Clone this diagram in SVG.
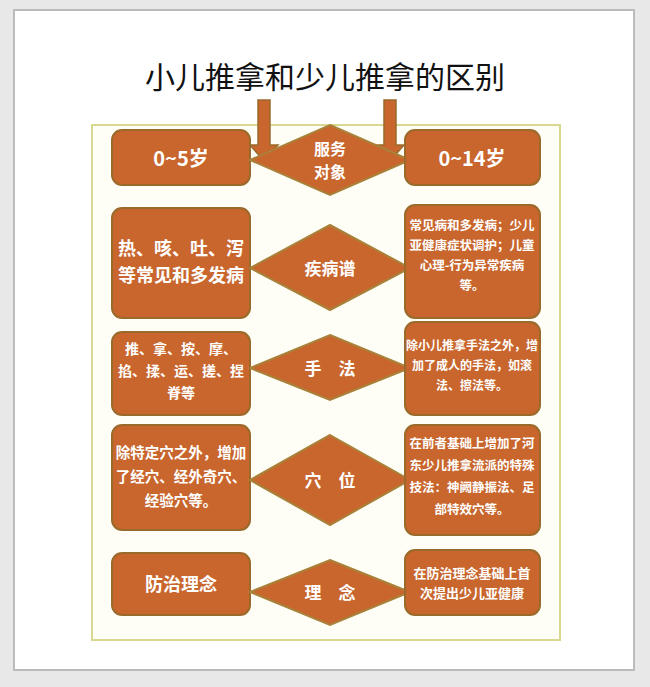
<svg xmlns="http://www.w3.org/2000/svg" width="650" height="687" viewBox="0 0 650 687">
<style>
.b{fill:#c8662e;stroke:#9a6a2a;stroke-width:2}
.d{fill:#c8662e;stroke:#a8823a;stroke-width:2}
.t{font-family:"Noto Sans CJK SC",sans-serif;fill:#fff;font-weight:bold;text-anchor:middle}
.ar{fill:#c8662e;stroke:#9a6a2a;stroke-width:1.5}
</style>
<rect width="650" height="687" fill="#e8e8e8"/>
<rect x="14" y="10" width="620" height="660" fill="#fff" stroke="#bbb" stroke-width="2"/>
<rect x="92" y="125" width="468" height="515" fill="#fffef6" stroke="#d8d890" stroke-width="2"/>
<text x="325" y="88" font-family="'Noto Sans CJK SC',sans-serif" font-size="30" text-anchor="middle" fill="#111">小儿推拿和少儿推拿的区别</text>
<g id="connectors">
<path class="ar" d="M258,100 h12 v45 h8 l-14,16 l-14,-16 h8 z"/>
<path class="ar" d="M384,100 h12 v45 h8 l-14,16 l-14,-16 h8 z"/>
</g>
<g id="r1">
<rect class="b" x="112" y="130" width="138" height="55" rx="10"/>
<text class="t" x="181" y="166" font-size="20">0~5岁</text>
<polygon class="d" points="330,125 410,160 330,195 250,160"/>
<text class="t" x="330" y="155" font-size="16">服务</text><text class="t" x="330" y="178" font-size="16">对象</text>
<rect class="b" x="405" y="130" width="135" height="55" rx="10"/>
<text class="t" x="472" y="166" font-size="20">0~14岁</text>
</g>
<g id="r2">
<rect class="b" x="112" y="208" width="138" height="110" rx="10"/>
<text class="t" x="181" y="255" font-size="18">热、咳、吐、泻</text><text class="t" x="181" y="282" font-size="18">等常见和多发病</text>
<polygon class="d" points="330,225 410,268 330,310 250,268"/>
<text class="t" x="330" y="275" font-size="17">疾病谱</text>
<rect class="b" x="405" y="205" width="135" height="113" rx="10"/>
<text class="t" x="472" y="230" font-size="12.5">常见病和多发病；少儿</text><text class="t" x="472" y="250" font-size="12.5">亚健康症状调护；儿童</text><text class="t" x="472" y="270" font-size="12.5">心理-行为异常疾病</text><text class="t" x="472" y="290" font-size="12.5">等。</text>
</g>
<g id="r3">
<rect class="b" x="112" y="332" width="138" height="83" rx="10"/>
<text class="t" x="181" y="354" font-size="14">推、拿、按、摩、</text><text class="t" x="181" y="376" font-size="14">掐、揉、运、搓、捏</text><text class="t" x="181" y="398" font-size="14">脊等</text>
<polygon class="d" points="330,335 410,368 330,400 250,368"/>
<text class="t" x="330" y="375" font-size="17">手　法</text>
<rect class="b" x="405" y="322" width="135" height="93" rx="10"/>
<text class="t" x="472" y="350" font-size="12">除小儿推拿手法之外，增</text><text class="t" x="472" y="370" font-size="12">加了成人的手法，如滚</text><text class="t" x="472" y="390" font-size="12">法、擦法等。</text>
</g>
<g id="r4">
<rect class="b" x="112" y="425" width="138" height="105" rx="10"/>
<text class="t" x="181" y="458" font-size="14.5">除特定穴之外，增加</text><text class="t" x="181" y="482" font-size="14.5">了经穴、经外奇穴、</text><text class="t" x="181" y="506" font-size="14.5">经验穴等。</text>
<polygon class="d" points="330,435 410,480 330,525 250,480"/>
<text class="t" x="330" y="487" font-size="17">穴　位</text>
<rect class="b" x="405" y="425" width="135" height="110" rx="10"/>
<text class="t" x="472" y="448" font-size="12.5">在前者基础上增加了河</text><text class="t" x="472" y="470" font-size="12.5">东少儿推拿流派的特殊</text><text class="t" x="472" y="492" font-size="12.5">技法：神阙静振法、足</text><text class="t" x="472" y="514" font-size="12.5">部特效穴等。</text>
</g>
<g id="r5">
<rect class="b" x="112" y="553" width="138" height="62" rx="10"/>
<text class="t" x="181" y="591" font-size="18">防治理念</text>
<polygon class="d" points="330,560 410,592 330,625 250,592"/>
<text class="t" x="330" y="599" font-size="17">理　念</text>
<rect class="b" x="405" y="550" width="135" height="65" rx="10"/>
<text class="t" x="472" y="578" font-size="13">在防治理念基础上首</text><text class="t" x="472" y="598" font-size="13">次提出少儿亚健康</text>
</g>
</svg>
